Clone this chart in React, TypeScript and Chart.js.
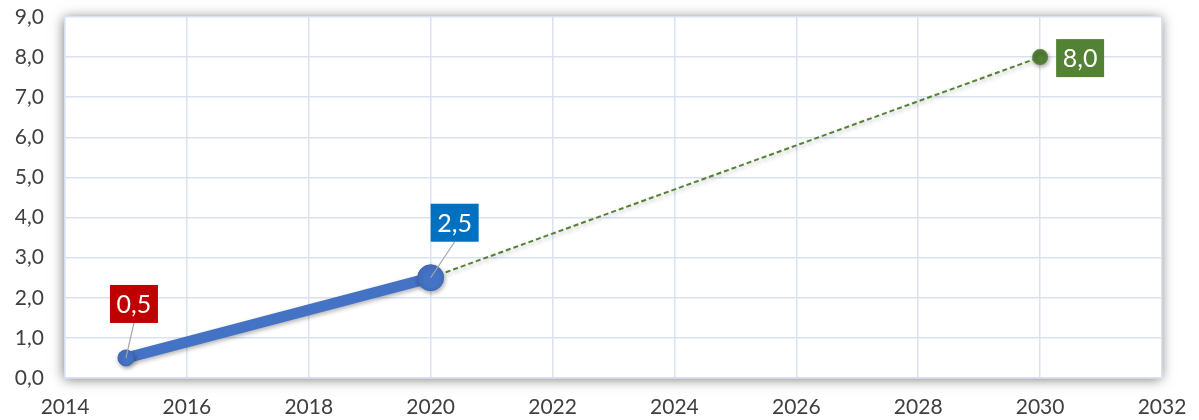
import React, { useEffect, useRef } from "react";
import { Chart, registerables } from "chart.js";

Chart.register(...registerables);

const actualYears = [2015, 2020];
const actualValues = [0.5, 2.5];
const targetYears = [2020, 2030];
const targetValues = [2.5, 8.0];
const labelTexts = ["0,5", "2,5", "8,0"];
const labelColors = ["#C00000", "#0070C0", "#548235"];

const FONT = "Lato, 'Open Sans', sans-serif";

const fmt = (v: number) => v.toFixed(1).replace(".", ",");

const shadowPlugin = {
  id: "areaShadow",
  beforeDraw(chart: any) {
    const { ctx, chartArea: a } = chart;
    ctx.save();
    ctx.shadowColor = "rgba(0,0,0,0.55)";
    ctx.shadowBlur = 12;
    ctx.shadowOffsetX = -1;
    ctx.shadowOffsetY = 1;
    ctx.fillStyle = "#ffffff";
    ctx.fillRect(a.left, a.top, a.right - a.left, a.bottom - a.top);
    ctx.restore();
  },
  beforeDatasetsDraw(chart: any) {
    const ctx = chart.ctx;
    ctx.save();
    ctx.shadowColor = "rgba(0,0,0,0.3)";
    ctx.shadowBlur = 4;
    ctx.shadowOffsetX = 1;
    ctx.shadowOffsetY = 2;
  },
  afterDatasetsDraw(chart: any) {
    const ctx = chart.ctx;
    ctx.restore();
    const x = chart.scales.x;
    const y = chart.scales.y;
    const pts = [
      { px: x.getPixelForValue(actualYears[0]), py: y.getPixelForValue(actualValues[0]), dx: 8, dy: -54, leader: true },
      { px: x.getPixelForValue(actualYears[1]), py: y.getPixelForValue(actualValues[1]), dx: 24, dy: -55, leader: true },
      { px: x.getPixelForValue(targetYears[1]), py: y.getPixelForValue(targetValues[1]), dx: 40, dy: 1, leader: false },
    ];
    ctx.save();
    ctx.font = `25px ${FONT}`;
    pts.forEach((p, i) => {
      const cx = p.px + p.dx;
      const cy = p.py + p.dy;
      const w = 48;
      const h = 38;
      if (p.leader) {
        ctx.strokeStyle = "#A6A6A6";
        ctx.lineWidth = 1.2;
        ctx.beginPath();
        ctx.moveTo(p.px, p.py);
        ctx.lineTo(cx, cy + h / 2);
        ctx.stroke();
      }
      ctx.fillStyle = labelColors[i];
      ctx.fillRect(cx - w / 2, cy - h / 2, w, h);
      ctx.fillStyle = "#ffffff";
      ctx.textAlign = "center";
      ctx.textBaseline = "middle";
      ctx.fillText(labelTexts[i], cx, cy + 1);
    });
    ctx.restore();
  },
};

export default function App() {
  const ref = useRef<HTMLCanvasElement>(null);
  useEffect(() => {
    document.body.style.margin = "0";
    const chart = new Chart(ref.current!, {
      type: "scatter",
      data: {
        datasets: [
          {
            data: actualYears.map((yr, i) => ({ x: yr, y: actualValues[i] })),
            showLine: true,
            borderColor: "#4472C4",
            backgroundColor: "#4472C4",
            borderWidth: 11,
            pointRadius: [8, 13],
            pointBackgroundColor: "#4472C4",
            pointBorderColor: "#3F68B5",
            pointBorderWidth: 1,
            borderCapStyle: "round",
          },
          {
            data: targetYears.map((yr, i) => ({ x: yr, y: targetValues[i] })),
            showLine: true,
            borderColor: "#548235",
            backgroundColor: "#548235",
            borderWidth: 2,
            borderDash: [5, 3],
            pointRadius: [0, 7],
            pointBackgroundColor: "#548235",
            pointBorderColor: "#548235",
          },
        ],
      },
      options: {
        animation: false,
        responsive: false,
        maintainAspectRatio: false,
        layout: { padding: { top: 17, right: 37, left: 0, bottom: 0 } },
        plugins: { legend: { display: false }, tooltip: { enabled: false } },
        scales: {
          x: {
            type: "linear",
            min: 2014,
            max: 2032,
            ticks: {
              stepSize: 2,
              callback: (v: any) => String(v),
              color: "#404040",
              font: { family: FONT, size: 21 },
              padding: 17,
              maxRotation: 0,
            },
            grid: { color: "#D9E2F3", lineWidth: 1.5, drawTicks: false },
            border: { color: "#D9E2F3", width: 1.5 },
            afterFit: (s: any) => {
              s.height = 42;
              s.paddingLeft = 0;
              s.paddingRight = 0;
              s.paddingTop = 0;
              s.paddingBottom = 0;
            },
          },
          y: {
            min: 0,
            max: 9,
            ticks: {
              stepSize: 1,
              callback: (v: any) => fmt(Number(v)),
              color: "#404040",
              font: { family: FONT, size: 21 },
              padding: 21,
            },
            grid: { color: "#D9E2F3", lineWidth: 1.5, drawTicks: false },
            border: { color: "#D9E2F3", width: 1.5 },
            afterFit: (s: any) => {
              s.width = 65;
              s.paddingTop = 0;
              s.paddingBottom = 0;
              s.paddingLeft = 0;
              s.paddingRight = 0;
            },
          },
        },
      } as any,
      plugins: [shadowPlugin],
    });
    return () => chart.destroy();
  }, []);
  return (
    <div style={{ width: 1199, height: 420 }}>
      <canvas ref={ref} width={1199} height={420} style={{ display: "block" }} />
    </div>
  );
}
